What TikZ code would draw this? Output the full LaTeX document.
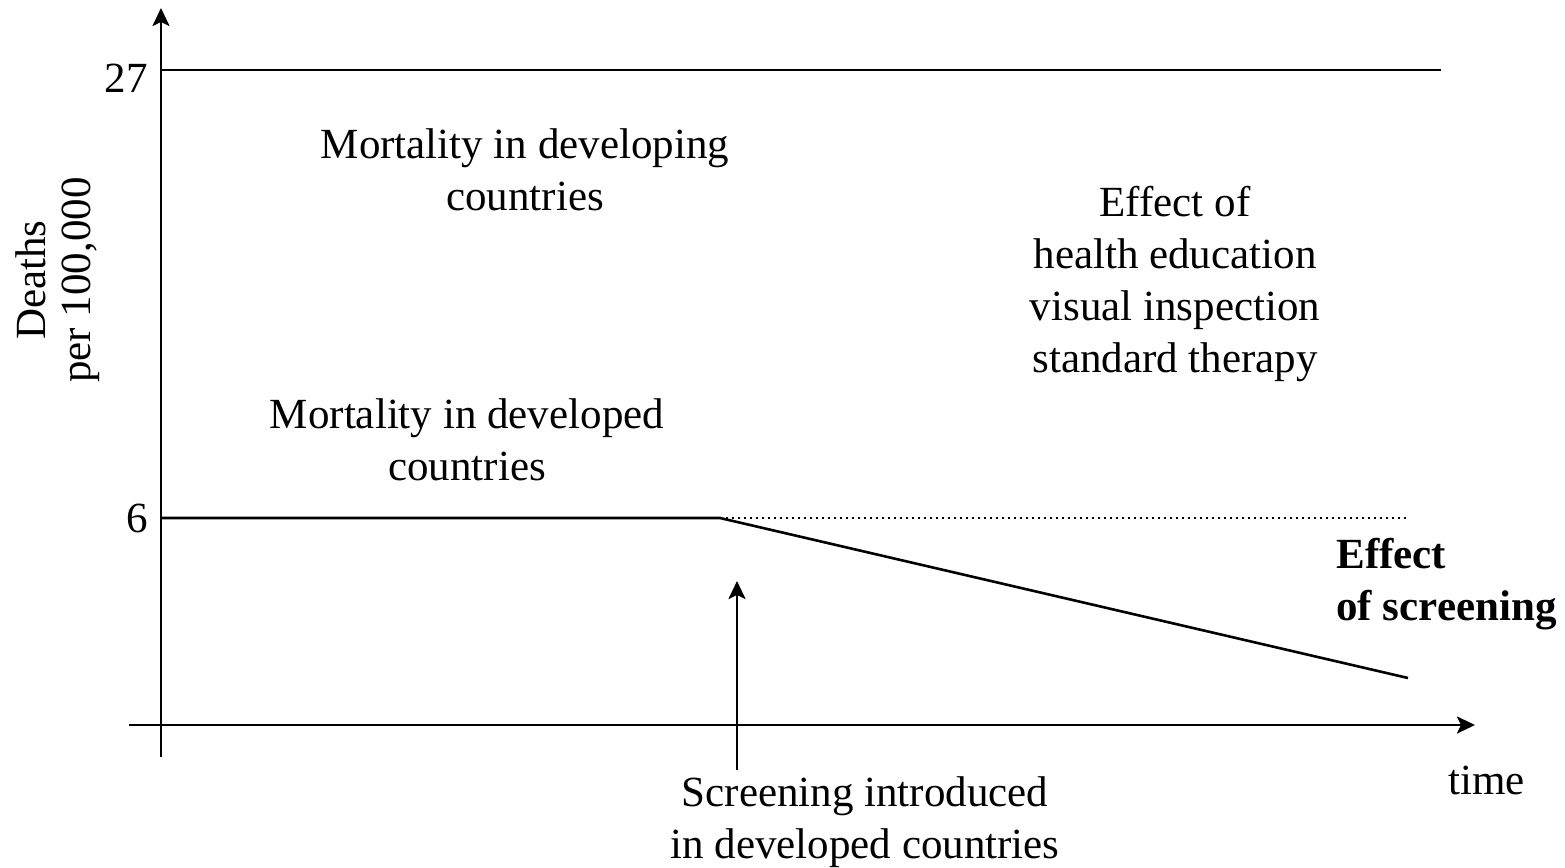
\documentclass[tikz,border=0pt]{standalone}
\usepackage{fontspec}
\setmainfont{Liberation Serif}
\usetikzlibrary{arrows.meta}
\begin{document}
\begin{tikzpicture}[x=0.5pt,y=-0.5pt,
  lbl/.style={inner sep=0pt,align=center,font=\fontsize{21.5}{26}\selectfont},
  ax/.style={line width=1.3pt},
  arr/.style={ax,-{Stealth[length=9pt,width=8.5pt,inset=2pt]}}]
\useasboundingbox (0,0) rectangle (1565,868);
% axes
\coordinate (ybot) at (161,757);
\coordinate (ytop) at (161,8);
\coordinate (xl) at (129,725);
\coordinate (xr) at (1475,725);
\draw[arr] (ybot) -- (ytop);
\draw[arr] (xl) -- (xr);
% level lines
\coordinate (a27) at (161,70);
\coordinate (b27) at (1441,70);
\draw[ax] (a27) -- (b27);
\coordinate (a6) at (161,518);
\coordinate (k6) at (720,518);
\coordinate (b6) at (1407,518);
\coordinate (e6) at (1408,678);
\draw[ax] (a6) -- (k6) -- (e6);
\draw[line width=1.2pt,dash pattern=on 1.2pt off 1.8pt] (k6) -- (b6);
% screening arrow
\coordinate (sb) at (737,770);
\coordinate (st) at (737,581);
\draw[arr] (sb) -- (st);
% labels
\node[lbl,anchor=east] (l27) at (148,78) {27};
\node[lbl,anchor=east] (l6) at (148,518) {6};
\node[lbl,rotate=90,font=\fontsize{21.5}{22.5}\selectfont] (ylab) at (58,280) {Deaths\\per 100,000};
\node[lbl] (dev1) at (525,170) {Mortality in developing\\countries};
\node[lbl] (dev2) at (467,440) {Mortality in developed\\countries};
\node[lbl] (eff) at (1175,284) {Effect of\\health education\\visual inspection\\standard therapy};
\node[lbl,align=left,anchor=west,font=\fontsize{21.5}{26}\selectfont\bfseries] (scr) at (1336,584) {Effect\\of screening};
\node[lbl,anchor=west] (time) at (1448,780) {time};
\node[lbl] (intro) at (865,822) {Screening introduced\\in developed countries};
\end{tikzpicture}
\end{document}
